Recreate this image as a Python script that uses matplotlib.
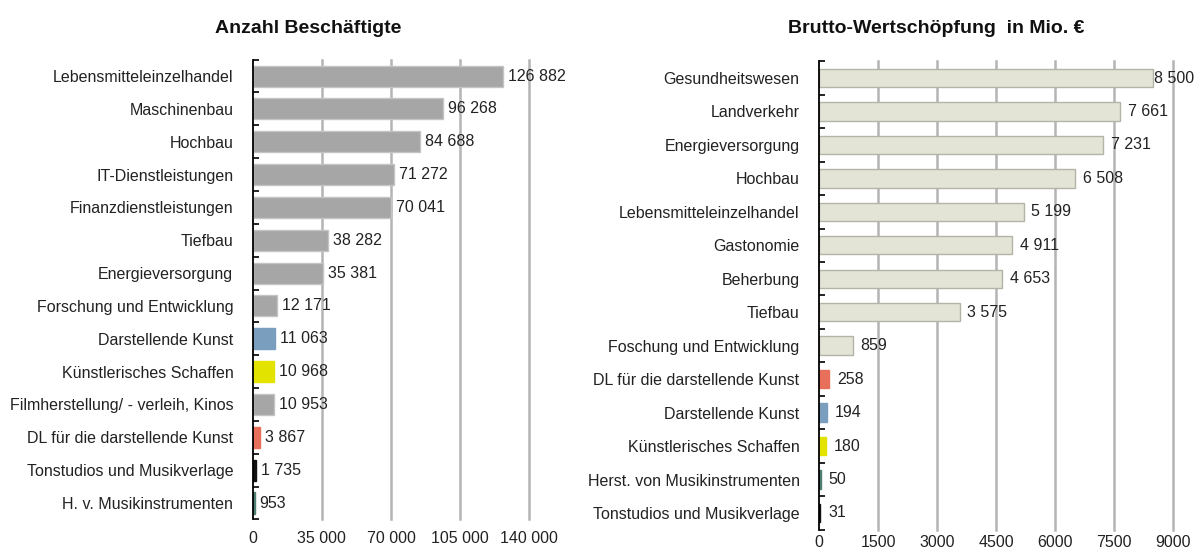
import matplotlib
matplotlib.use("Agg")
import matplotlib.pyplot as plt
from matplotlib.ticker import FixedLocator

plt.rcParams["font.family"] = ["Liberation Sans", "DejaVu Sans"]

# ── data ──────────────────────────────────────────────────────────────────────
emp_labels = [
    "Lebensmitteleinzelhandel", "Maschinenbau", "Hochbau", "IT-Dienstleistungen",
    "Finanzdienstleistungen", "Tiefbau", "Energieversorgung",
    "Forschung und Entwicklung", "Darstellende Kunst", "Künstlerisches Schaffen",
    "Filmherstellung/ - verleih, Kinos", "DL für die darstellende Kunst",
    "Tonstudios und Musikverlage", "H. v. Musikinstrumenten",
]
emp_values = [126882, 96268, 84688, 71272, 70041, 38282, 35381,
              12171, 11063, 10968, 10953, 3867, 1735, 953]
emp_ticks = [0, 35000, 70000, 105000, 140000]

gva_labels = [
    "Gesundheitswesen", "Landverkehr", "Energieversorgung", "Hochbau",
    "Lebensmitteleinzelhandel", "Gastonomie", "Beherbung", "Tiefbau",
    "Foschung und Entwicklung", "DL für die darstellende Kunst",
    "Darstellende Kunst", "Künstlerisches Schaffen",
    "Herst. von Musikinstrumenten", "Tonstudios und Musikverlage",
]
gva_values = [8500, 7661, 7231, 6508, 5199, 4911, 4653, 3575,
              859, 258, 194, 180, 50, 31]
gva_ticks = [0, 1500, 3000, 4500, 6000, 7500, 9000]

# highlight colours for the culture branches
HIGHLIGHT = {
    "Darstellende Kunst": "#7a9ebd",
    "Künstlerisches Schaffen": "#e3e300",
    "DL für die darstellende Kunst": "#e8705a",
    "Tonstudios und Musikverlage": "#111111",
    "H. v. Musikinstrumenten": "#4f7f72",
    "Herst. von Musikinstrumenten": "#4f7f72",
}


def fmt(v):
    return f"{v:,}".replace(",", " ")


def draw(ax, labels, values, ticks, base, edge, bar_h, tick_fmt, lab_off, xpad):
    n = len(labels)
    y = list(range(n))
    colors = [HIGHLIGHT.get(l, base) for l in labels]
    edges = [edge if l not in HIGHLIGHT else c for l, c in zip(labels, colors)]
    ax.barh(y, values, height=bar_h, color=colors, edgecolor=edges,
            linewidth=1.0, zorder=3)
    xmax = ticks[-1]
    for yi, v in zip(y, values):
        # labels close to the right edge get pushed in against the bar
        xl = min(v + xmax * lab_off, xmax * 0.945)
        ax.text(xl, yi, fmt(v), va="center", ha="left",
                fontsize=11.5, color="#222222", zorder=4)
    ax.set_ylim(n - 0.5, -0.5)
    ax.set_xlim(0, xmax)
    ax.set_yticks(y)
    ax.set_yticklabels(labels, fontsize=11.5, color="#222222")
    ax.yaxis.set_minor_locator(FixedLocator([i - 0.5 for i in range(n + 1)]))
    ax.tick_params(axis="y", which="major", length=0, pad=14)
    ax.tick_params(axis="y", which="minor", direction="in", length=4,
                   width=1.2, color="black")
    ax.set_xticks(ticks)
    ax.set_xticklabels([tick_fmt(t) for t in ticks], fontsize=11.5,
                       color="#222222")
    ax.tick_params(axis="x", length=0, pad=xpad)
    for t in ticks[1:]:
        ax.axvline(t, color="#b4b4b4", lw=1.8, zorder=1, clip_on=False)
    for s in ("top", "right", "bottom"):
        ax.spines[s].set_visible(False)
    ax.spines["left"].set_linewidth(1.3)
    ax.spines["left"].set_zorder(5)


fig = plt.figure(figsize=(11.95, 5.52), dpi=100)
ax1 = fig.add_axes([0.2115, 0.059, 0.2315, 0.833])
ax2 = fig.add_axes([0.6854, 0.0404, 0.2962, 0.8486])

draw(ax1, emp_labels, emp_values, emp_ticks, "#a6a6a6", "#c4c4c4", 0.64,
     fmt, 0.018, 8)
draw(ax2, gva_labels, gva_values, gva_ticks, "#e3e3d6", "#b3b3a6", 0.55,
     str, 0.022, 4)

fig.text(0.2575, 0.949, "Anzahl Beschäftigte", ha="center", va="center",
         fontsize=14, fontweight="bold", color="#111111")
fig.text(0.7835, 0.949, "Brutto-Wertschöpfung  in Mio. €", ha="center",
         va="center", fontsize=14, fontweight="bold", color="#111111")

fig.savefig("out.png", dpi=100)
